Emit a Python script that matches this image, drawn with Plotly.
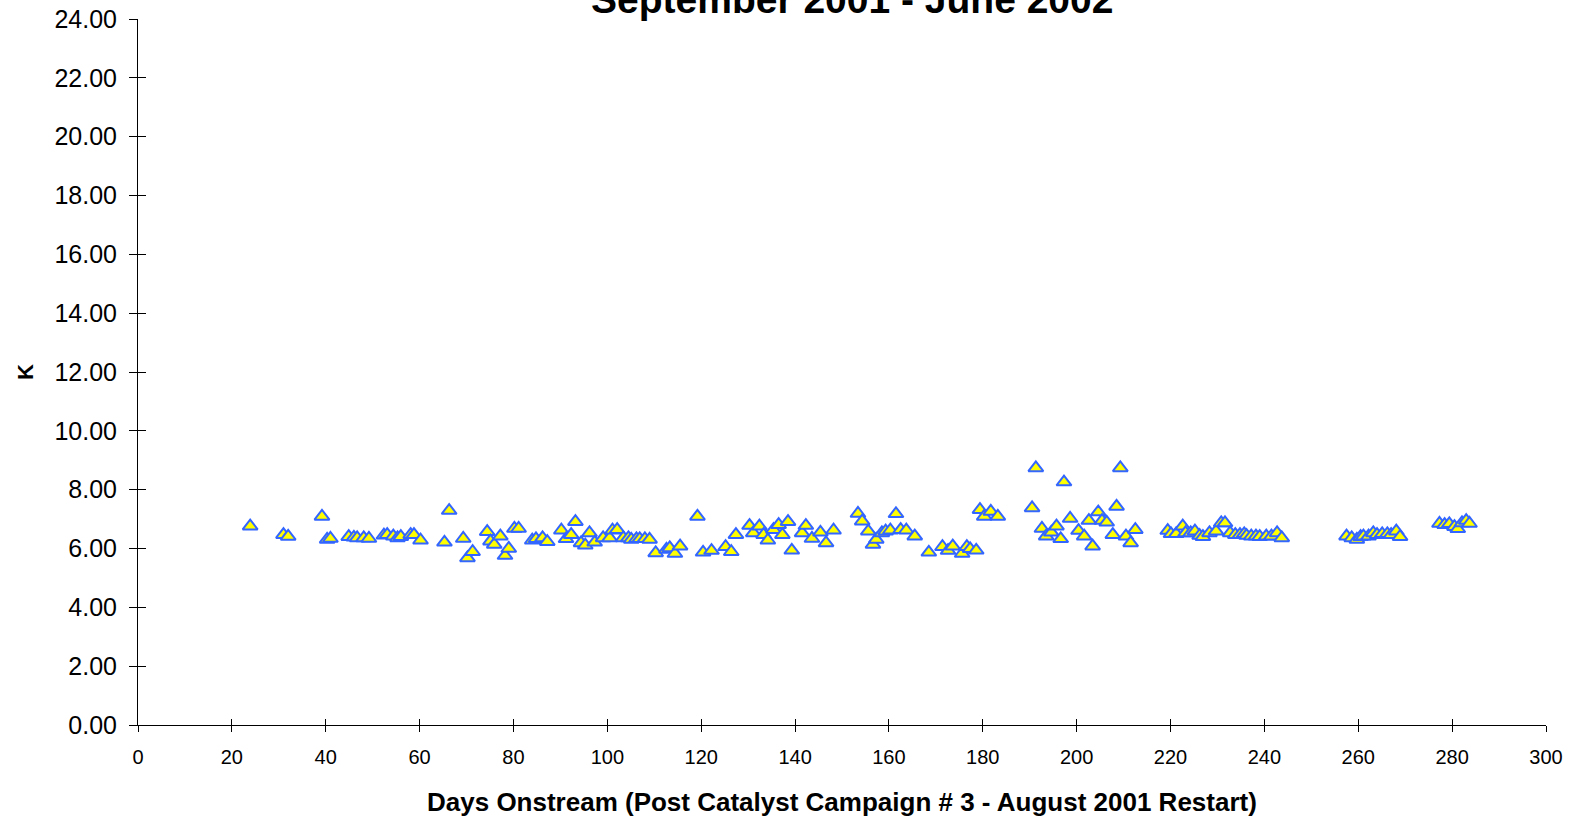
import plotly.graph_objects as go

# Days onstream after the August 2001 restart
days = [
    23.9, 31.0, 32.0, 39.2, 40.3, 41.0, 44.9, 46.0, 46.7, 48.1, 49.2,
    52.4, 53.1, 54.4, 55.3, 56.0, 58.1, 58.8, 60.2, 65.3, 66.3,
    69.3, 70.2, 71.3, 74.4, 75.1, 75.9, 77.2, 78.2, 79.0, 80.2, 81.1,
    84.0, 84.8, 86.2, 87.2, 90.2, 91.2, 92.3, 93.2, 94.4, 95.3, 96.2,
    97.3, 99.1, 100.5, 101.1, 102.1, 103.4, 104.5, 105.1, 106.2, 106.9,
    108.0, 109.0, 110.3, 112.6, 113.3, 114.4, 115.5, 119.2, 120.4, 122.2,
    125.2, 126.4, 127.4, 130.3, 131.1, 132.4, 133.3, 134.2, 135.4, 136.5,
    137.3, 138.5, 139.3, 141.5, 142.3, 143.6, 145.4, 146.6, 148.2,
    153.4, 154.3, 155.6, 156.6, 157.3, 158.5, 159.3, 160.3, 161.5, 162.5,
    163.7, 165.5, 168.5, 171.4, 172.6, 173.6, 175.6, 176.6, 177.3, 178.6,
    179.4, 180.3, 181.7, 183.2,
    190.5, 191.3, 192.6, 193.5, 194.6, 195.7, 196.6, 197.3, 198.6, 200.4,
    201.6, 202.6, 203.4, 204.6, 205.4, 206.4, 207.7, 208.5, 209.3, 210.5,
    211.5, 212.5,
    219.4, 220.1, 221.2, 222.6, 223.2, 224.3, 225.2, 226.2, 226.9, 228.3,
    229.7, 230.8, 231.6, 232.7, 233.8, 234.8, 235.7, 236.2, 237.2, 238.2,
    239.0, 240.4, 241.5, 242.7, 243.7,
    257.5, 258.6, 259.7, 260.5, 261.1, 262.2, 263.2, 264.0, 265.1, 266.2,
    267.0, 268.1, 268.9,
    277.3, 278.4, 279.4, 280.5, 281.2, 282.1, 283.0, 283.7,
]

# K value for each day
k_values = [
    6.76, 6.47, 6.41, 7.09, 6.31, 6.34, 6.40, 6.38, 6.36, 6.36, 6.34,
    6.45, 6.47, 6.42, 6.36, 6.40, 6.47, 6.47, 6.28, 6.21, 7.29,
    6.34, 5.68, 5.89, 6.57, 6.25, 6.14, 6.42, 5.76, 6.00, 6.68, 6.68,
    6.28, 6.33, 6.36, 6.23, 6.62, 6.33, 6.47, 6.91, 6.19, 6.11, 6.53,
    6.21, 6.36, 6.36, 6.62, 6.64, 6.36, 6.36, 6.31, 6.33, 6.33,
    6.33, 6.31, 5.85, 5.97, 6.02, 5.83, 6.08, 7.09, 5.87, 5.93,
    6.06, 5.89, 6.47, 6.78, 6.53, 6.76, 6.47, 6.28, 6.64, 6.81,
    6.47, 6.91, 5.94, 6.53, 6.78, 6.34, 6.55, 6.19, 6.62,
    7.19, 6.93, 6.59, 6.14, 6.31, 6.53, 6.59, 6.62, 7.18, 6.64,
    6.62, 6.42, 5.87, 6.06, 5.93, 6.08, 5.83, 6.06, 5.99, 5.94,
    7.32, 7.09, 7.26, 7.09,
    7.38, 8.74, 6.68, 6.42, 6.55, 6.76, 6.33, 8.26, 7.02, 6.61,
    6.42, 6.95, 6.08, 7.24, 6.95, 6.89, 6.47, 7.43, 8.74, 6.42,
    6.19, 6.64,
    6.61, 6.50, 6.50, 6.76, 6.53, 6.53, 6.59, 6.44, 6.40, 6.53,
    6.59, 6.87, 6.87, 6.53, 6.47, 6.47, 6.50, 6.44, 6.42, 6.42,
    6.40, 6.42, 6.42, 6.53, 6.36,
    6.42, 6.36, 6.31, 6.40, 6.42, 6.42, 6.53, 6.47, 6.50, 6.50,
    6.47, 6.59, 6.40,
    6.85, 6.81, 6.84, 6.74, 6.67, 6.87, 6.95, 6.85,
]

x_ticks = list(range(0, 301, 20))
y_ticks = [v * 2 for v in range(0, 13)]
y_tick_labels = [f"{v:.2f}" for v in y_ticks]

title_text = "September 2001 - June 2002"
x_title = "Days Onstream (Post Catalyst Campaign # 3 - August 2001 Restart)"
y_title = "K"

X_RANGE = [0, 300]
Y_RANGE = [0, 24]

fig = go.Figure()

fig.add_trace(go.Scatter(
    x=days, y=k_values, mode="markers",
    marker=dict(symbol="triangle-up", size=13, color="#FFFF00",
                line=dict(color="#3366FF", width=2)),
    showlegend=False, hoverinfo="x+y",
))

# empty trace that carries the inner half of the cross-style tick marks
fig.add_trace(go.Scatter(x=[], y=[], xaxis="x2", yaxis="y2",
                         showlegend=False, hoverinfo="skip"))

tick_font = dict(family="Liberation Sans, Arial, sans-serif", color="#000000")

fig.update_layout(
    width=1572, height=820,
    margin=dict(l=138, r=26, t=19, b=95, autoexpand=False),
    paper_bgcolor="#FFFFFF", plot_bgcolor="#FFFFFF",
    font=dict(family="Liberation Sans, Arial, sans-serif", color="#000000"),
    xaxis=dict(
        range=X_RANGE, tickvals=x_ticks, ticktext=[str(v) for v in x_ticks],
        showgrid=False, zeroline=False, automargin=False,
        showline=True, linecolor="#000000", linewidth=1,
        ticks="outside", ticklen=6, tickcolor="#000000", tickwidth=1,
        tickfont=dict(size=20, **tick_font), ticklabelstandoff=8,
        ticklabeloverflow="allow",
    ),
    yaxis=dict(
        range=Y_RANGE, tickvals=y_ticks, ticktext=y_tick_labels,
        showgrid=False, zeroline=False, automargin=False,
        showline=True, linecolor="#000000", linewidth=1,
        ticks="outside", ticklen=8, tickcolor="#000000", tickwidth=1,
        tickfont=dict(size=25, **tick_font), ticklabelstandoff=7,
        ticklabeloverflow="allow",
    ),
    xaxis2=dict(
        range=X_RANGE, tickvals=x_ticks, overlaying="x", anchor="y2",
        showticklabels=False, showgrid=False, zeroline=False, showline=False,
        automargin=False,
        ticks="inside", ticklen=6, tickcolor="#000000", tickwidth=1,
    ),
    yaxis2=dict(
        range=Y_RANGE, tickvals=y_ticks, overlaying="y", anchor="x2",
        showticklabels=False, showgrid=False, zeroline=False, showline=False,
        automargin=False,
        ticks="inside", ticklen=8, tickcolor="#000000", tickwidth=1,
    ),
    annotations=[
        dict(text=f"<b>{title_text}</b>", xref="paper", yref="paper",
             x=0.5, y=1.0, xanchor="center", yanchor="bottom", yshift=-4,
             xshift=10,
             showarrow=False, font=dict(size=39, color="#000000")),
        dict(text=f"<b>{x_title}</b>", xref="paper", yref="paper",
             x=0.5, y=0, xanchor="center", yanchor="middle", yshift=-77,
             showarrow=False, font=dict(size=26, color="#000000")),
        dict(text=f"<b>{y_title}</b>", xref="paper", yref="paper",
             x=0, y=0.5, xanchor="center", yanchor="middle", xshift=-113,
             textangle=-90, showarrow=False,
             font=dict(size=22, color="#000000")),
    ],
)

fig.write_html("out.html")
